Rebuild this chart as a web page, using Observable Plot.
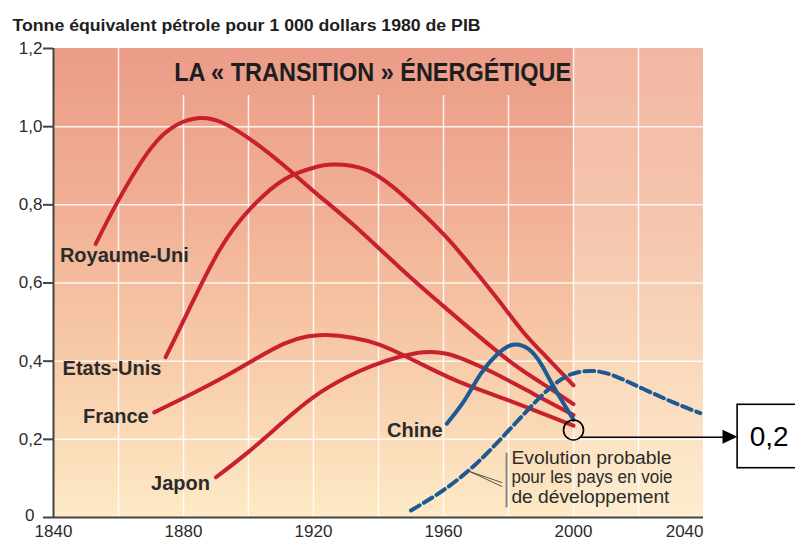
<!DOCTYPE html>
<html>
<head>
<meta charset="utf-8">
<script src="https://cdn.jsdelivr.net/npm/d3@7"></script>
<script src="https://cdn.jsdelivr.net/npm/@observablehq/plot@0.6"></script>
<style>
  html, body { margin: 0; padding: 0; background: white; }
</style>
</head>
<body>
<div id="chart"></div>
<script>
// ---------- DATA ----------
const subtitle = "Tonne équivalent pétrole pour 1 000 dollars 1980 de PIB";
const titleText = "LA « TRANSITION » ÉNERGÉTIQUE";

const royaumeUni = [[1853,0.70],[1860,0.812],[1870,0.945],[1878,1.005],[1885,1.022],[1892,1.01],[1901,0.965],[1911,0.90],[1921,0.828],[1932,0.751],[1947,0.636],[1958,0.555],[1966,0.498],[1980,0.402],[1990,0.345],[2000,0.29]];
const etatsUnis = [[1874.5,0.41],[1880.5,0.512],[1891,0.683],[1901,0.794],[1911,0.865],[1920,0.895],[1926,0.903],[1936,0.89],[1947,0.828],[1960,0.725],[1970,0.628],[1977,0.555],[1984,0.48],[1990,0.425],[2000,0.338]];
const france = [[1871,0.269],[1882,0.314],[1893,0.362],[1902,0.405],[1911,0.445],[1918,0.463],[1924,0.467],[1932,0.46],[1940,0.443],[1948,0.414],[1956,0.381],[1966,0.343],[1976,0.312],[1988,0.274],[2000,0.235]];
const japon = [[1890,0.103],[1900,0.168],[1910,0.24],[1920,0.308],[1930,0.358],[1938,0.388],[1946,0.41],[1954,0.423],[1961,0.419],[1967,0.402],[1976,0.368],[1988,0.315],[2000,0.262]];
const chine = [[1961,0.24],[1966.4,0.299],[1971.5,0.368],[1976.7,0.419],[1981.3,0.442],[1986,0.432],[1990,0.393],[1994,0.333],[2000,0.25]];
const paysEnDeveloppement = [[1950,0.018],[1960,0.07],[1970,0.137],[1980,0.222],[1990,0.31],[1998,0.362],[2005,0.375],[2012,0.364],[2022,0.327],[2032,0.29],[2039,0.267]];

const seriesLabels = [
  {name: "Royaume-Uni", year: 1861.8, value: 0.670},
  {name: "Etats-Unis", year: 1858.0, value: 0.381},
  {name: "France", year: 1859.2, value: 0.257},
  {name: "Japon", year: 1879.1, value: 0.087},
  {name: "Chine", year: 1951.2, value: 0.223}
];
const noteLines = [
  {text: "Evolution probable", year: 1980.9, value: 0.152},
  {text: "pour les pays en voie", year: 1980.9, value: 0.103},
  {text: "de développement", year: 1980.9, value: 0.052}
];

const xTickLabels = [1840, 1880, 1920, 1960, 2000, 2040];
const yTicks = [0, 0.2, 0.4, 0.6, 0.8, 1.0, 1.2];
const gridFullYears = [1860, 2000, 2020];
const gridShortYears = [1880, 1900, 1920, 1940, 1960, 1980];
const gridValues = [0.2, 0.4, 0.6, 0.8, 1.0];

// annotation: circled value at 2000 and callout "0,2"
const circledPoint = [{year: 2000, value: 0.224}];
const calloutLine = [{x1: 2002.2, y1: 0.2055, x2: 2046.5, y2: 0.2055}];
const calloutHead = [{x: 2046, y1: 0.1875, y2: 0.2235}, {x: 2050.6, y1: 0.2055, y2: 0.2055}];
const calloutBox = [{x1: 2050.5, x2: 2070, y1: 0.1261, y2: 0.2884}];
const calloutText = [{text: "0,2", year: 2060.2, value: 0.207}];
const leaderVertical = [{year: 1979.4, y1: 0.0248, y2: 0.1646}];
const leaderDiagonal = [{x1: 1967.8, y1: 0.1185, x2: 1978.1, y2: 0.089}, {x1: 1967.8, y1: 0.1185, x2: 1978.1, y2: 0.079}];

// ---------- STYLE ----------
const RED = "#c8202f";
const BLUE = "#1b5a92";
const INK = "#2b2b2b";
const FONT = "'Liberation Sans', Arial, Helvetica, sans-serif";
const fitWidths = {
  [titleText]: 397,
  [subtitle]: 468,
  "Evolution probable": 160,
  "pour les pays en voie": 161,
  "de développement": 158
};

const fmt = d => d === 0 ? "" : d.toFixed(1).replace(".", ",");

const chart = Plot.plot({
  width: 795,
  height: 545,
  marginLeft: 53,
  marginRight: 92,
  marginTop: 48,
  marginBottom: 28,
  style: {fontFamily: FONT, background: "white", overflow: "visible"},
  x: {domain: [1840, 2040], axis: null},
  y: {domain: [0, 1.2], axis: null},
  marks: [
    // background bands with gradients
    Plot.rect([{x1: 1840, x2: 2000}], {x1: "x1", x2: "x2", y1: 0, y2: 1.2, fill: "url(#bgA)"}),
    Plot.rect([{x1: 2000, x2: 2040}], {x1: "x1", x2: "x2", y1: 0, y2: 1.2, fill: "url(#bgB)"}),
    // grid
    Plot.ruleY(gridValues, {x1: 1840, x2: 2040, stroke: "white", strokeWidth: 1.5, strokeOpacity: 0.85}),
    Plot.ruleX(gridFullYears, {y1: 0, y2: 1.2, stroke: "white", strokeWidth: 1.5, strokeOpacity: 0.85}),
    Plot.ruleX(gridShortYears, {y1: 0, y2: 1.08, stroke: "white", strokeWidth: 1.5, strokeOpacity: 0.85}),
    // axes
    Plot.ruleY([0], {x1: 1840, x2: 2040, stroke: "#444", strokeWidth: 2}),
    Plot.ruleX([1840], {y1: 0, y2: 1.2, stroke: "#444", strokeWidth: 2}),
    Plot.axisY({ticks: yTicks, tickFormat: fmt, tickSize: 10, tickPadding: 1, fontSize: 17, stroke: "#444", strokeWidth: 2, fill: INK, label: null}),
    Plot.text(yTicks.slice(0, 1), {x: 1840, y: d => d, text: d => String(d), dx: -19, dy: -2, textAnchor: "end", fontSize: 17, fill: INK}),
    Plot.text(xTickLabels.slice(0, -1), {x: d => d, frameAnchor: "bottom", dy: 19, text: d => String(d), fontSize: 17, fill: INK}),
    Plot.text(xTickLabels.slice(-1), {x: d => d, frameAnchor: "bottom", dy: 19, text: d => String(d), fontSize: 17, fill: INK, textAnchor: "end"}),
    // series
    Plot.line(royaumeUni, {stroke: RED, strokeWidth: 4, curve: "natural"}),
    Plot.line(etatsUnis, {stroke: RED, strokeWidth: 4, curve: "natural"}),
    Plot.line(france, {stroke: RED, strokeWidth: 4, curve: "natural"}),
    Plot.line(japon, {stroke: RED, strokeWidth: 4, curve: "natural"}),
    Plot.line(chine, {stroke: BLUE, strokeWidth: 4, curve: "natural"}),
    Plot.line(paysEnDeveloppement, {stroke: BLUE, strokeWidth: 4, strokeDasharray: "10,5", curve: "natural"}),
    // labels
    Plot.text(seriesLabels, {x: "year", y: "value", text: "name", fontSize: 20, fontWeight: "bold", fill: INK}),
    Plot.text([titleText], {x: 1938.2, y: 1.137, text: d => d, fontSize: 26, fontWeight: "bold", fill: "#1e1e1e"}),
    Plot.text([subtitle], {x: 1827.4, y: 1.259, text: d => d, fontSize: 16, fontWeight: "bold", fill: "#1e1e1e", textAnchor: "start"}),
    // note with leader
    Plot.ruleX(leaderVertical, {x: "year", y1: "y1", y2: "y2", stroke: "#888", strokeWidth: 2}),
    Plot.link(leaderDiagonal, {x1: "x1", y1: "y1", x2: "x2", y2: "y2", stroke: "#555", strokeWidth: 1}),
    Plot.text(noteLines, {x: "year", y: "value", text: "text", fontSize: 18, fill: INK, textAnchor: "start"}),
    // callout
    Plot.dot(circledPoint, {x: "year", y: "value", r: 10, stroke: "black", strokeWidth: 1.6, fill: "none"}),
    Plot.link(calloutLine, {x1: "x1", y1: "y1", x2: "x2", y2: "y2", stroke: "black", strokeWidth: 1.6}),
    Plot.areaY(calloutHead, {x: "x", y1: "y1", y2: "y2", fill: "black"}),
    Plot.rect(calloutBox, {x1: "x1", x2: "x2", y1: "y1", y2: "y2", fill: "white", stroke: "black", strokeWidth: 1.6}),
    Plot.text(calloutText, {x: "year", y: "value", text: "text", fontSize: 28, fill: "black"})
  ]
});

// gradient definitions
const svg = d3.select(chart);
const defs = svg.insert("defs", ":first-child");
function grad(id, stops) {
  const g = defs.append("linearGradient").attr("id", id).attr("x1", 0).attr("y1", 0).attr("x2", 0).attr("y2", 1);
  stops.forEach(([o, c]) => g.append("stop").attr("offset", o).attr("stop-color", c));
}
grad("bgA", [[0, "#eb9c88"], [0.35, "#f1b095"], [0.65, "#f7caa8"], [1, "#feeac6"]]);
grad("bgB", [[0, "#f2b7a3"], [0.35, "#f5c4ac"], [0.65, "#f9d7ba"], [1, "#feedd0"]]);

// fit widths of condensed texts
svg.selectAll("text").each(function() {
  const t = this.textContent;
  if (fitWidths[t]) {
    this.setAttribute("textLength", fitWidths[t]);
    this.setAttribute("lengthAdjust", "spacingAndGlyphs");
  }
});

document.getElementById("chart").appendChild(chart);
</script>
</body>
</html>
